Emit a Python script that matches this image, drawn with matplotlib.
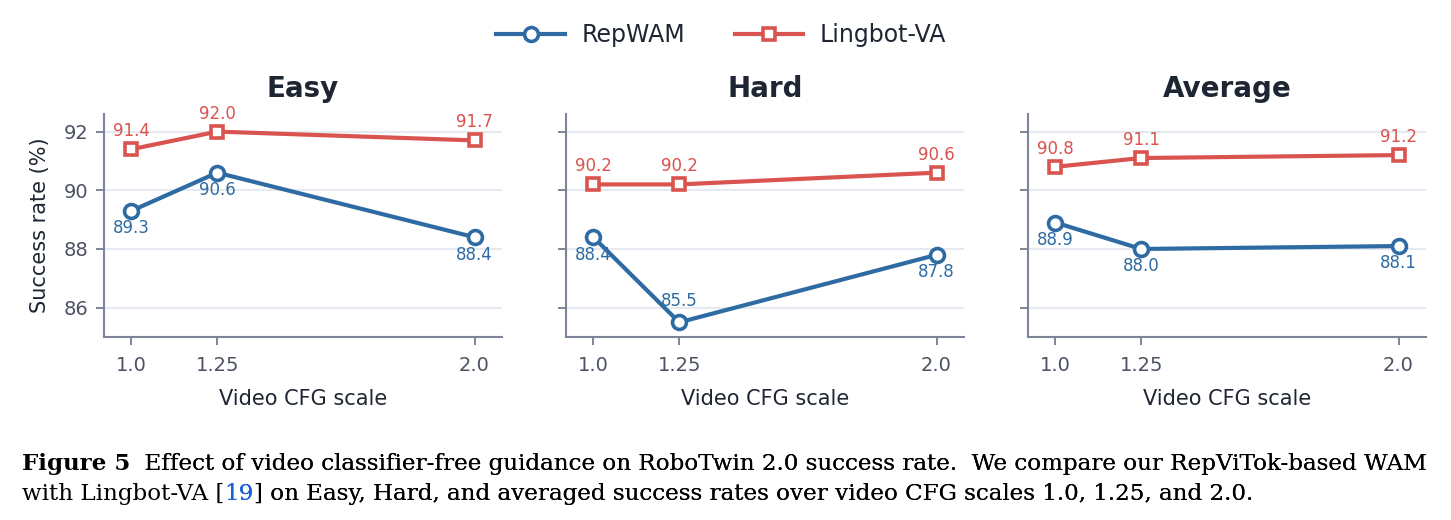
import matplotlib
import numpy as np

matplotlib.use("Agg")
import matplotlib.pyplot as plt
from matplotlib.lines import Line2D

# x positions (video CFG scale)
cfg_scales = [1.0, 1.25, 2.0]
cfg_labels = ["1.0", "1.25", "2.0"]

panel_titles = ["Easy", "Hard", "Average"]
repwam = [
    [89.3, 90.6, 88.4],
    [88.4, 85.5, 87.8],
    [88.9, 88.0, 88.1],
]
lingbot = [
    [91.4, 92.0, 91.7],
    [90.2, 90.2, 90.6],
    [90.8, 91.1, 91.2],
]

BLUE = "#2e6ba3"
RED = "#d9534f"
DARK = "#1f2633"
TICK = "#4b5363"
SPINE = "#7d8598"
GRID = "#e6e9ef"

W, H = 1451, 520
fig = plt.figure(figsize=(W / 100, H / 100), dpi=100)

lefts = [104, 566, 1028]
ax_w = 398
bottom_px, top_px = 337, 114

for i, title in enumerate(panel_titles):
    ax = fig.add_axes([lefts[i] / W, 1 - bottom_px / H, ax_w / W, (bottom_px - top_px) / H])

    ax.plot(cfg_scales, lingbot[i], color=RED, lw=3, marker="s", ms=9,
            mfc="white", mec=RED, mew=2.6, zorder=3)
    ax.plot(cfg_scales, repwam[i], color=BLUE, lw=3, marker="o", ms=10,
            mfc="white", mec=BLUE, mew=2.6, zorder=3)

    for x, y in zip(cfg_scales, lingbot[i]):
        ax.annotate(f"{y:.1f}", (x, y), xytext=(0, 13), textcoords="offset points",
                    ha="center", va="center", color=RED, fontsize=12, zorder=4)
    for x, y in zip(cfg_scales, repwam[i]):
        dy = -12.5
        if y < 86.5:
            # lowest point: put the label above the marker
            dy = 15
        ax.annotate(f"{y:.1f}", (x, y), xytext=(0, dy), textcoords="offset points",
                    ha="center", va="center", color=BLUE, fontsize=12, zorder=4)

    ax.set_xlim(0.92, 2.08)
    ax.set_ylim(85.0, 92.6)
    ax.set_xticks(cfg_scales)
    ax.set_xticklabels(cfg_labels)
    ax.set_yticks([86, 88, 90, 92])
    ax.grid(axis="y", color=GRID, lw=1.5, zorder=0)
    ax.set_axisbelow(True)

    for side in ["top", "right"]:
        ax.spines[side].set_visible(False)
    for side in ["left", "bottom"]:
        ax.spines[side].set_color(SPINE)
        ax.spines[side].set_linewidth(1.5)
    ax.tick_params(axis="both", colors=SPINE, labelcolor=TICK, labelsize=14,
                   length=6, width=1.4, pad=5)
    ax.tick_params(axis="x", pad=8)

    ax.set_title(title, fontsize=20, fontweight="bold", color=DARK, pad=12)
    ax.set_xlabel("Video CFG scale", fontsize=15, color=DARK, labelpad=10)
    if i == 0:
        ax.set_ylabel("Success rate (%)", fontsize=15, color=DARK, labelpad=10)
    else:
        ax.tick_params(axis="y", labelleft=False)

handles = [
    Line2D([], [], color=BLUE, lw=3, marker="o", ms=10, mfc="white", mec=BLUE, mew=2.6),
    Line2D([], [], color=RED, lw=3, marker="s", ms=9, mfc="white", mec=RED, mew=2.6),
]
fig.legend(handles, ["RepWAM", "Lingbot-VA"], loc="center", bbox_to_anchor=(0.497, 0.932),
           ncol=2, frameon=False, fontsize=17, handlelength=2.9, handletextpad=0.7,
           columnspacing=2.1, labelcolor=DARK)

# caption below the chart, pieces chained one after another
cap_kw = dict(family="DejaVu Serif", fontsize=16.6, color="black")
t1 = fig.text(22 / W, 1 - 470 / H, "Figure 5", fontweight="bold", va="baseline", **cap_kw)
line1 = plt.annotate("  Effect of video classifier-free guidance on RoboTwin 2.0 success rate.  We compare our RepViTok-based WAM",
                     xy=(1, 0), xycoords=t1, va="bottom", annotation_clip=False, **cap_kw)
fig.add_artist(line1)
t2 = fig.text(22 / W, 1 - 500 / H, "with Lingbot-VA [", va="baseline", **cap_kw)
t3 = plt.annotate("19", xy=(1, 0), xycoords=t2, va="bottom", annotation_clip=False,
                  **{**cap_kw, "color": "#1a5fd6"})
fig.add_artist(t3)
t4 = plt.annotate("] on Easy, Hard, and averaged success rates over video CFG scales 1.0, 1.25, and 2.0.",
                  xy=(1, 0), xycoords=t3, va="bottom", annotation_clip=False, **cap_kw)
fig.add_artist(t4)

fig.savefig("out.png", dpi=100)
